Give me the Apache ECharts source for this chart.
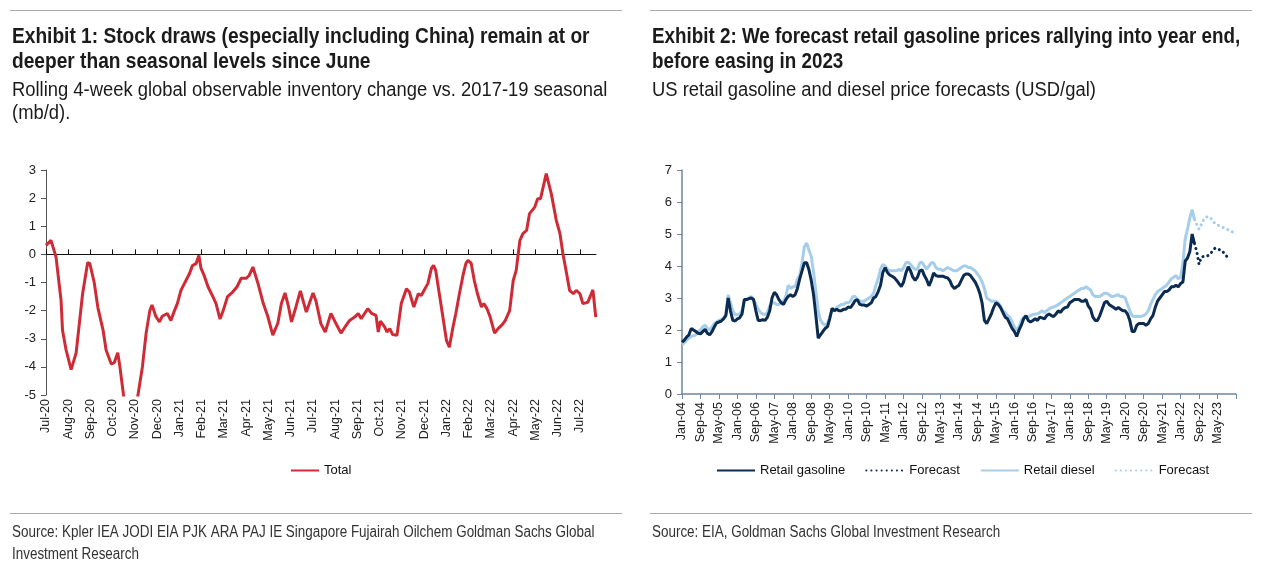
<!DOCTYPE html>
<html><head><meta charset="utf-8">
<script src="https://cdn.jsdelivr.net/npm/echarts@6/dist/echarts.min.js"></script>
<style>html,body{margin:0;padding:0;background:#fff}#c{width:1280px;height:572px}</style>
</head><body><div id="c"></div>
<script>
// ---------- Exhibit 1: rolling 4-week inventory change vs seasonal (mb/d) ----------
const invTickLabels = ['Jul-20','Aug-20','Sep-20','Oct-20','Nov-20','Dec-20','Jan-21','Feb-21','Mar-21','Apr-21','May-21','Jun-21','Jul-21','Aug-21','Sep-21','Oct-21','Nov-21','Dec-21','Jan-22','Feb-22','Mar-22','Apr-22','May-22','Jun-22','Jul-22'];
const invDates = ['2020-07-01','2020-07-08','2020-07-15','2020-07-22','2020-07-24','2020-07-29','2020-08-05','2020-08-12','2020-08-21','2020-08-28','2020-08-31','2020-09-06','2020-09-11','2020-09-18','2020-09-22','2020-09-29','2020-10-03','2020-10-08','2020-10-11','2020-10-16','2020-10-22','2020-10-29','2020-11-02','2020-11-05','2020-11-11','2020-11-16','2020-11-21','2020-11-24','2020-11-29','2020-12-04','2020-12-08','2020-12-15','2020-12-20','2020-12-25','2020-12-29','2021-01-03','2021-01-10','2021-01-15','2021-01-19','2021-01-24','2021-01-28','2021-01-31','2021-02-04','2021-02-09','2021-02-15','2021-02-19','2021-02-24','2021-02-28','2021-03-06','2021-03-13','2021-03-19','2021-03-25','2021-04-01','2021-04-05','2021-04-10','2021-04-17','2021-04-24','2021-04-30','2021-05-07','2021-05-14','2021-05-19','2021-05-24','2021-05-29','2021-06-02','2021-06-08','2021-06-14','2021-06-22','2021-07-01','2021-07-05','2021-07-12','2021-07-18','2021-07-26','2021-08-02','2021-08-09','2021-08-16','2021-08-21','2021-08-28','2021-09-02','2021-09-06','2021-09-15','2021-09-20','2021-09-26','2021-09-29','2021-10-02','2021-10-08','2021-10-11','2021-10-15','2021-10-19','2021-10-25','2021-10-31','2021-11-07','2021-11-11','2021-11-17','2021-11-23','2021-11-27','2021-12-02','2021-12-06','2021-12-11','2021-12-14','2021-12-17','2021-12-22','2021-12-27','2022-01-01','2022-01-05','2022-01-10','2022-01-14','2022-01-19','2022-01-24','2022-01-28','2022-01-31','2022-02-04','2022-02-08','2022-02-12','2022-02-17','2022-02-20','2022-02-24','2022-02-28','2022-03-06','2022-03-11','2022-03-17','2022-03-21','2022-03-27','2022-04-01','2022-04-05','2022-04-10','2022-04-14','2022-04-19','2022-04-23','2022-04-30','2022-05-04','2022-05-08','2022-05-16','2022-05-23','2022-05-30','2022-06-04','2022-06-08','2022-06-13','2022-06-17','2022-06-22','2022-06-26','2022-07-01','2022-07-05','2022-07-12','2022-07-19','2022-07-23'];
const invTotal = [0.32,0.5,-0.1,-1.64,-2.7,-3.4,-4.1,-3.5,-1.4,-0.3,-0.32,-1.0,-1.9,-2.7,-3.4,-3.9,-3.85,-3.5,-4.0,-5.0,-6.0,-6.4,-5.8,-5.0,-4.0,-2.8,-2.0,-1.8,-2.2,-2.4,-2.2,-2.1,-2.35,-2.0,-1.75,-1.28,-0.93,-0.68,-0.4,-0.33,-0.04,-0.5,-0.75,-1.16,-1.5,-1.75,-2.3,-2.0,-1.5,-1.34,-1.16,-0.85,-0.85,-0.75,-0.45,-1.05,-1.75,-2.2,-2.87,-2.45,-1.75,-1.37,-1.87,-2.4,-1.87,-1.3,-2.05,-1.37,-1.64,-2.46,-2.76,-2.1,-2.46,-2.8,-2.53,-2.35,-2.23,-2.1,-2.29,-1.93,-2.1,-2.17,-2.76,-2.37,-2.59,-2.76,-2.64,-2.85,-2.88,-1.75,-1.22,-1.34,-1.87,-1.4,-1.46,-1.22,-1.04,-0.5,-0.39,-0.57,-1.4,-2.23,-3.06,-3.3,-2.59,-2.1,-1.4,-0.75,-0.33,-0.21,-0.31,-0.93,-1.4,-1.87,-1.75,-1.93,-2.23,-2.8,-2.64,-2.49,-2.35,-2.0,-0.93,-0.57,0.5,0.74,0.85,1.45,1.68,1.98,1.98,2.87,2.16,1.21,0.74,0.02,-0.69,-1.28,-1.4,-1.28,-1.4,-1.75,-1.7,-1.26,-2.23];

// ---------- Exhibit 2: US retail gasoline and diesel (USD/gal), monthly from Jan-04 ----------
const priceStart = '2004-01';
const priceEnd = '2024-01';
const gasoline = [1.62,1.68,1.78,1.85,2.05,2.0,1.95,1.9,1.88,1.95,2.02,1.9,
1.85,1.95,2.1,2.22,2.25,2.28,2.35,2.45,3.0,2.6,2.3,2.28,
2.35,2.38,2.5,2.95,2.95,2.98,3.0,2.95,2.6,2.3,2.3,2.32,
2.3,2.4,2.6,3.0,3.18,3.1,2.95,2.85,2.8,2.95,3.05,3.1,
3.05,3.1,3.3,3.6,3.85,4.1,4.1,3.88,3.55,3.1,2.45,1.75,
1.85,1.95,2.05,2.1,2.35,2.68,2.6,2.65,2.6,2.6,2.65,2.65,
2.72,2.7,2.8,2.92,2.95,2.8,2.78,2.78,2.75,2.8,2.85,3.0,
3.05,3.2,3.4,3.8,3.95,3.8,3.72,3.68,3.63,3.55,3.45,3.36,
3.5,3.78,3.98,3.85,3.65,3.55,3.65,3.85,3.88,3.7,3.57,3.38,
3.55,3.78,3.7,3.68,3.68,3.68,3.65,3.63,3.55,3.38,3.3,3.35,
3.4,3.55,3.7,3.75,3.75,3.7,3.6,3.5,3.35,3.15,2.85,2.3,
2.2,2.35,2.5,2.7,2.85,2.8,2.7,2.55,2.4,2.35,2.2,2.05,
1.95,1.8,2.0,2.15,2.35,2.45,2.3,2.25,2.3,2.35,2.3,2.4,
2.38,2.35,2.45,2.5,2.45,2.42,2.5,2.6,2.55,2.65,2.7,2.72,
2.85,2.9,2.95,2.95,2.95,2.9,2.9,2.95,2.75,2.65,2.4,2.3,
2.3,2.45,2.65,2.85,2.9,2.8,2.75,2.7,2.65,2.7,2.65,2.6,
2.6,2.5,2.3,1.95,1.95,2.15,2.2,2.2,2.2,2.15,2.2,2.35,
2.45,2.7,2.9,3.0,3.1,3.2,3.2,3.25,3.35,3.35,3.4,3.35,
3.45,3.5,4.15,4.25,4.45,5.0,4.7];
const diesel = [1.54,1.6,1.68,1.75,1.8,1.82,1.85,1.95,2.0,2.1,2.15,2.05,
2.0,2.1,2.2,2.25,2.3,2.32,2.37,2.5,3.1,2.85,2.6,2.48,
2.48,2.5,2.6,2.9,2.95,3.0,3.05,2.95,2.8,2.65,2.55,2.5,
2.48,2.55,2.75,2.85,2.85,2.8,2.8,2.85,2.9,3.05,3.4,3.3,
3.35,3.35,3.6,3.7,4.1,4.6,4.72,4.5,4.3,3.8,3.2,2.6,
2.3,2.2,2.15,2.2,2.4,2.6,2.6,2.7,2.75,2.8,2.8,2.85,
2.85,2.9,3.05,3.05,2.95,2.9,2.9,2.9,2.95,3.0,3.05,3.15,
3.4,3.6,3.9,4.05,4.0,3.9,3.85,3.85,3.85,3.85,3.9,3.85,
3.95,4.1,4.12,4.05,3.95,3.9,3.9,4.1,4.12,4.0,3.9,4.0,
4.1,4.1,3.95,3.9,3.9,3.85,3.9,3.95,3.92,3.88,3.85,3.85,
3.9,3.95,4.0,4.0,3.95,3.95,3.9,3.85,3.75,3.65,3.5,3.3,
3.0,2.95,2.9,2.9,2.9,2.85,2.75,2.6,2.55,2.45,2.4,2.25,
2.1,2.0,2.1,2.3,2.4,2.42,2.4,2.45,2.48,2.5,2.5,2.55,
2.6,2.55,2.6,2.65,2.7,2.72,2.75,2.8,2.85,2.9,2.95,3.0,
3.05,3.1,3.15,3.2,3.25,3.3,3.3,3.35,3.3,3.25,3.1,3.05,
3.05,3.05,3.1,3.15,3.15,3.1,3.05,3.05,3.08,3.1,3.05,3.05,
3.0,2.8,2.6,2.45,2.42,2.43,2.42,2.43,2.45,2.5,2.6,2.8,
2.95,3.1,3.2,3.25,3.3,3.35,3.4,3.5,3.6,3.65,3.7,3.6,
3.65,4.1,4.85,5.15,5.5,5.76,5.45];
const forecastStart = '2022-07';
const gasolineForecast = [4.7,4.45,4.05,4.28,4.3,4.3,4.33,4.38,4.5,4.56,4.55,4.5,4.48,4.38,4.3,4.2];
const dieselForecast = [5.45,5.3,5.15,5.3,5.45,5.52,5.55,5.5,5.4,5.32,5.28,5.25,5.22,5.18,5.15,5.12,5.08,5.05];
const monthAbbr = ['Jan','Feb','Mar','Apr','May','Jun','Jul','Aug','Sep','Oct','Nov','Dec'];

// ---------- helpers ----------
function invMonths(s){const p=s.split('-').map(Number);const dim=new Date(p[0],p[1],0).getDate();return (p[0]-2020)*12+(p[1]-7)+(p[2]-1)/dim;}
function ym(s){const p=s.split('-').map(Number);return p[0]*12+p[1]-1;}
const priceCats=[];
for(let k=ym(priceStart);k<=ym(priceEnd);k++){priceCats.push(monthAbbr[k%12]+'-'+String(Math.floor(k/12)%100).padStart(2,'0'));}
const fcOff = ym(forecastStart)-ym(priceStart);

const SANS = '"Liberation Sans",Arial,sans-serif';
const RED = '#cf2b36', NAVY = '#0b2c50', LIGHT = '#a6cdea', SLATE='#6f84a0';

const invTickVals = invTickLabels.map((_,i)=>i);
const invMax = 24.72;

function txt(x,y,s,font,sx,fill){
  return {type:'text', x:x, y:y, scaleX:sx, style:{text:s, font:font, fill:fill||'#1b1b1b', verticalAlign:'middle', align:'left'}};
}
const TF='bold 22px '+SANS, SF='20px '+SANS, RF='16px '+SANS;

const chart = echarts.init(document.getElementById('c'));
chart.setOption({
  animation:false,
  backgroundColor:'#fff',
  grid:[
    {left:46, top:170, width:550, height:225, containLabel:false},
    {left:682, top:170, width:554, height:224, containLabel:false}
  ],
  xAxis:[
    {gridIndex:0, type:'value', min:0, max:invMax, position:'bottom',
     axisLine:{show:false, onZero:false}, axisTick:{show:false}, splitLine:{show:false},
     axisLabel:{rotate:90, fontFamily:SANS, fontSize:12.5, color:'#222', margin:4,
       customValues:invTickVals, formatter:v=>invTickLabels[Math.round(v)]||''}},
    {gridIndex:0, type:'value', min:0, max:invMax,
     axisLine:{show:true, onZero:true, lineStyle:{color:'#111', width:1}},
     axisTick:{show:true, inside:false, length:5, customValues:invTickVals, lineStyle:{color:'#111'}},
     axisLabel:{show:false}, splitLine:{show:false}},
    {gridIndex:1, type:'category', data:priceCats, boundaryGap:false,
     axisLine:{show:true, onZero:false, lineStyle:{color:SLATE, width:1.5}},
     axisTick:{show:true, length:5, interval:(i)=>i%8===0, lineStyle:{color:SLATE}},
     axisLabel:{rotate:90, fontFamily:SANS, fontSize:12.5, color:'#222', margin:8,
       interval:(i)=>i%8===0 && i<240},
     splitLine:{show:false}}
  ],
  yAxis:[
    {gridIndex:0, type:'value', min:-5, max:3, interval:1,
     axisLine:{show:true, lineStyle:{color:'#555', width:1}},
     axisTick:{show:true, length:5, lineStyle:{color:'#555'}},
     axisLabel:{fontFamily:SANS, fontSize:13, color:'#222', margin:10},
     splitLine:{show:false}},
    {gridIndex:1, type:'value', min:0, max:7, interval:1,
     axisLine:{show:true, lineStyle:{color:SLATE, width:1.5}},
     axisTick:{show:true, length:5, lineStyle:{color:SLATE}},
     axisLabel:{fontFamily:SANS, fontSize:13, color:'#222', margin:10},
     splitLine:{show:false}}
  ],
  legend:[
    {left:285, top:459, itemWidth:28, itemHeight:10, data:['Total'], itemStyle:{opacity:0},
     textStyle:{fontFamily:SANS, fontSize:13, color:'#111'}, itemGap:4},
    {left:711, top:459, itemWidth:38, itemHeight:10, itemGap:20, itemStyle:{opacity:0},
     data:['Retail gasoline','Forecast','Retail diesel','Forecast (diesel)'],
     formatter:n=>n.indexOf('Forecast')===0?'Forecast':n,
     textStyle:{fontFamily:SANS, fontSize:13, color:'#111'}}
  ],
  series:[
    {name:'Total', type:'line', xAxisIndex:0, yAxisIndex:0, symbol:'none', smooth:false,
     lineStyle:{color:RED, width:3}, itemStyle:{color:RED}, clip:true,
     data:invDates.map((d,i)=>[invMonths(d), invTotal[i]])},
    {name:'Retail gasoline', type:'line', xAxisIndex:2, yAxisIndex:1, symbol:'none',
     lineStyle:{color:NAVY, width:3}, itemStyle:{color:NAVY}, z:4,
     data:gasoline},
    {name:'Forecast', type:'line', xAxisIndex:2, yAxisIndex:1, symbol:'none',
     lineStyle:{color:NAVY, width:3, type:[0.1,5], cap:'round'}, itemStyle:{color:NAVY}, z:4,
     data:gasolineForecast.map((v,i)=>[fcOff+i, v])},
    {name:'Retail diesel', type:'line', xAxisIndex:2, yAxisIndex:1, symbol:'none',
     lineStyle:{color:LIGHT, width:3}, itemStyle:{color:LIGHT}, z:3,
     data:diesel},
    {name:'Forecast (diesel)', type:'line', xAxisIndex:2, yAxisIndex:1, symbol:'none',
     lineStyle:{color:LIGHT, width:3, type:[0.1,5], cap:'round'}, itemStyle:{color:LIGHT}, z:3,
     data:dieselForecast.map((v,i)=>[fcOff+i, v])}
  ],
  graphic:[
    {type:'line', shape:{x1:10,y1:10.5,x2:622,y2:10.5}, style:{stroke:'#a8a8a8', lineWidth:1}},
    {type:'line', shape:{x1:650,y1:10.5,x2:1252,y2:10.5}, style:{stroke:'#a8a8a8', lineWidth:1}},
    {type:'line', shape:{x1:10,y1:513.5,x2:622,y2:513.5}, style:{stroke:'#a8a8a8', lineWidth:1}},
    {type:'line', shape:{x1:650,y1:513.5,x2:1252,y2:513.5}, style:{stroke:'#a8a8a8', lineWidth:1}},
    txt(12,37,'Exhibit 1: Stock draws (especially including China) remain at or',TF,0.87),
    txt(12,62,'deeper than seasonal levels since June',TF,0.87),
    txt(12,90,'Rolling 4-week global observable inventory change vs. 2017-19 seasonal',SF,0.92),
    txt(12,113,'(mb/d).',SF,0.92),
    txt(652,37,'Exhibit 2: We forecast retail gasoline prices rallying into year end,',TF,0.855),
    txt(652,62,'before easing in 2023',TF,0.855),
    txt(652,90,'US retail gasoline and diesel price forecasts (USD/gal)',SF,0.92),
    txt(12,533,'Source: Kpler IEA JODI EIA PJK ARA PAJ IE Singapore Fujairah Oilchem Goldman Sachs Global',RF,0.84,'#333'),
    txt(12,555,'Investment Research',RF,0.84,'#333'),
    txt(652,533,'Source: EIA, Goldman Sachs Global Investment Research',RF,0.84,'#333')
  ]
});
</script>
</body></html>
